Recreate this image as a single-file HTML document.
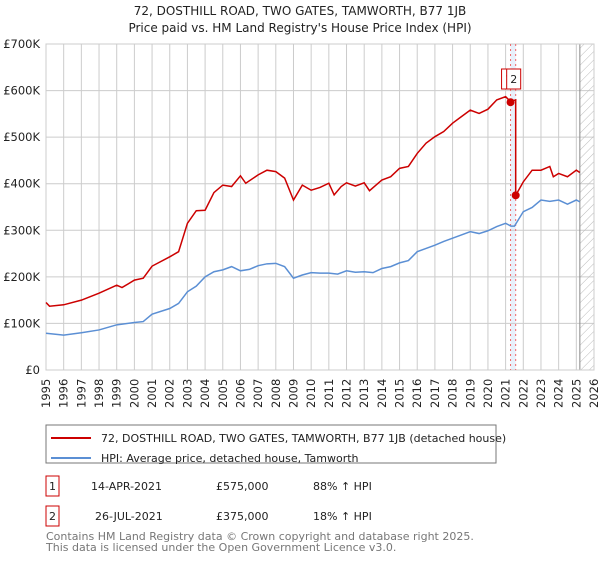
<!DOCTYPE html>
<html><head><meta charset="utf-8"><style>
body{margin:0;background:#fff;font-family:"Liberation Sans","DejaVu Sans",sans-serif;}
svg text{font-family:"DejaVu Sans","Liberation Sans",sans-serif;}
</style></head><body>
<svg id="c" width="600" height="560" xmlns="http://www.w3.org/2000/svg">
<defs><pattern id="h" width="6" height="6" patternUnits="userSpaceOnUse" patternTransform="rotate(45)"><line x1="0" y1="0" x2="0" y2="6" stroke="#bbb" stroke-width="1"/></pattern></defs>
<text x="300" y="15" text-anchor="middle" font-size="12" fill="#222">72, DOSTHILL ROAD, TWO GATES, TAMWORTH, B77 1JB</text>
<text x="300" y="32" text-anchor="middle" font-size="12" fill="#222">Price paid vs. HM Land Registry's House Price Index (HPI)</text>
<g id="grid"></g><g id="marks"></g>
<rect x="46" y="425" width="450" height="38" fill="#fff" stroke="#777"/>
<line x1="51" y1="438" x2="91" y2="438" stroke="#cc0000" stroke-width="2"/>
<text x="101" y="442" font-size="11" fill="#222">72, DOSTHILL ROAD, TWO GATES, TAMWORTH, B77 1JB (detached house)</text>
<line x1="51" y1="458" x2="91" y2="458" stroke="#5b8fd4" stroke-width="2"/>
<text x="101" y="462" font-size="11" fill="#222">HPI: Average price, detached house, Tamworth</text>
<rect x="46" y="476" width="13" height="20" fill="#fff" stroke="#cc0000"/>
<text x="52.5" y="490" text-anchor="middle" font-size="11" fill="#222">1</text>
<text x="91" y="490" font-size="11" fill="#222">14-APR-2021</text>
<text x="216" y="490" font-size="11" fill="#222">£575,000</text>
<text x="313" y="490" font-size="11" fill="#222">88% ↑ HPI</text>
<rect x="46" y="506" width="13" height="20" fill="#fff" stroke="#cc0000"/>
<text x="52.5" y="520" text-anchor="middle" font-size="11" fill="#222">2</text>
<text x="95" y="520" font-size="11" fill="#222">26-JUL-2021</text>
<text x="216" y="520" font-size="11" fill="#222">£375,000</text>
<text x="313" y="520" font-size="11" fill="#222">18% ↑ HPI</text>
<text x="46" y="540" font-size="11" fill="#777">Contains HM Land Registry data © Crown copyright and database right 2025.</text>
<text x="46" y="551" font-size="11" fill="#777">This data is licensed under the Open Government Licence v3.0.</text>
</svg>
<script>
const yTicks=[0,100,200,300,400,500,600,700];
const yTickLabels=["£0","£100K","£200K","£300K","£400K","£500K","£600K","£700K"];
const years=[1995,1996,1997,1998,1999,2000,2001,2002,2003,2004,2005,2006,2007,2008,2009,2010,2011,2012,2013,2014,2015,2016,2017,2018,2019,2020,2021,2022,2023,2024,2025,2026];
const hpiT=[1995,1996,1997,1998,1999,2000,2000.5,2001,2002,2002.5,2003,2003.5,2004,2004.5,2005,2005.5,2006,2006.5,2007,2007.5,2008,2008.5,2009,2009.5,2010,2010.5,2011,2011.5,2012,2012.5,2013,2013.5,2014,2014.5,2015,2015.5,2016,2016.5,2017,2017.5,2018,2018.5,2019,2019.5,2020,2020.5,2021,2021.3,2021.5,2022,2022.5,2023,2023.5,2024,2024.5,2025,2025.2];
const hpiV=[79,75,80,86,97,102,104,120,132,143,168,180,200,211,215,222,213,216,224,228,229,222,197,204,209,208,208,206,213,210,211,209,218,222,230,235,254,261,268,276,283,290,297,293,299,308,315,309,309,340,349,365,362,365,356,365,361];
const redT=[1995,1995.2,1996,1997,1998,1999,1999.3,2000,2000.5,2001,2002,2002.5,2003,2003.5,2004,2004.5,2005,2005.5,2006,2006.3,2007,2007.5,2008,2008.5,2009,2009.5,2010,2010.5,2011,2011.3,2011.7,2012,2012.5,2013,2013.3,2014,2014.5,2015,2015.5,2016,2016.5,2017,2017.5,2018,2018.5,2019,2019.5,2020,2020.5,2021,2021.28,2021.57,2021.57,2022,2022.5,2023,2023.5,2023.7,2024,2024.5,2025,2025.2];
const redV=[145,137,140,150,165,182,177,193,197,223,243,254,315,342,343,381,397,394,417,401,419,429,426,412,365,397,386,392,401,376,394,402,395,402,385,408,415,433,437,465,487,501,512,530,544,558,551,560,580,587,576,580,375,404,429,429,437,415,422,415,429,424];
const saleT=[2021.28,2021.57];
const saleV=[575,375];
const saleLabels=["1","2"];
const X=t=>46+(t-1995)*(548/31);
const Y=v=>370-v*(326/700);
const ns="http://www.w3.org/2000/svg";
function mk(p,tag,a){const e=document.createElementNS(ns,tag);for(const k in a)e.setAttribute(k,a[k]);p.appendChild(e);return e;}
const g=document.getElementById('grid'),m=document.getElementById('marks');
const band=mk(g,'rect',{x:X(saleT[0]),y:44,width:X(saleT[1])-X(saleT[0]),height:326,fill:'#e8f0fb'});


years.forEach(y=>{const l=mk(g,'line',{x1:X(y),x2:X(y),y1:44,y2:370,stroke:'#ccc','stroke-width':1});


const t=mk(g,'text',{transform:`translate(${X(y)+4},${408}) rotate(-90)`,'font-size':'11.5',fill:'#222'});t.textContent=y;

});
yTicks.forEach((v,i)=>{const l=mk(g,'line',{x1:46,x2:594,y1:Y(v),y2:Y(v),stroke:'#ccc','stroke-width':1});


const t=mk(g,'text',{x:40,y:Y(v)+4,'text-anchor':'end','font-size':'11.5',fill:'#222'});t.textContent=yTickLabels[i];

});
const hx=X(2025.2);
const hatch=mk(g,'rect',{x:hx,y:44,width:594-hx,height:326,fill:'url(#h)'});


mk(g,'line',{x1:hx,x2:hx,y1:44,y2:370,stroke:'#888','stroke-width':1});
mk(g,'rect',{x:46,y:44,width:548,height:326,fill:'none',stroke:'#ccc'});
saleT.forEach(t=>{const l=mk(g,'line',{x1:X(t),x2:X(t),y1:44,y2:370,stroke:'#e66','stroke-width':1,'stroke-dasharray':'2,3'});

});
const hp=mk(m,'polyline',{points:hpiT.map((t,i)=>X(t)+','+Y(hpiV[i])).join(' '),fill:'none',stroke:'#5b8fd4','stroke-width':1.5});


const rp=mk(m,'polyline',{points:redT.map((t,i)=>X(t)+','+Y(redV[i])).join(' '),fill:'none',stroke:'#cc0000','stroke-width':1.5});


saleT.forEach((t,i)=>{const c=mk(m,'circle',{cx:X(t),cy:Y(saleV[i]),r:4,fill:'#cc0000'});


const bx=X(t)-9;
const b=mk(m,'rect',{x:bx,y:69,width:14,height:20,fill:'#fff',stroke:'#cc0000'});


const tx=mk(m,'text',{x:bx+7,y:83,'text-anchor':'middle','font-size':'11',fill:'#222'});tx.textContent=saleLabels[i];

});
</script>
</body></html>
